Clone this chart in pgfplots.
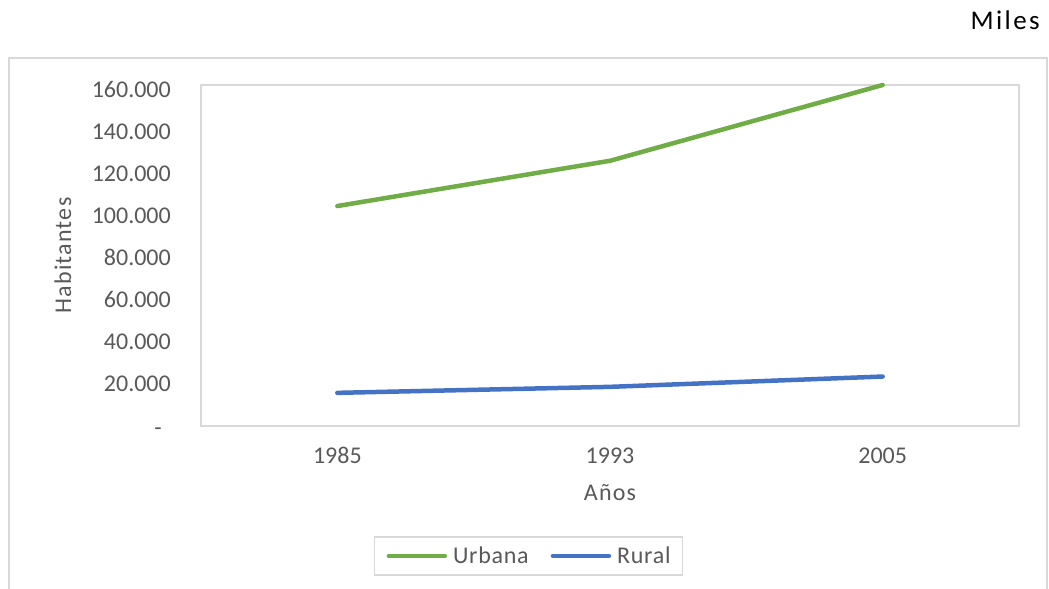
\documentclass[border=0pt]{standalone}
\usepackage{fontspec}
\setmainfont{Carlito}
\usepackage{pgfplots}
\pgfplotsset{compat=1.18}
\definecolor{cgreen}{HTML}{70AD47}
\definecolor{cblue}{HTML}{4472C4}
\definecolor{cgrid}{HTML}{D9D9D9}
\definecolor{ctext}{HTML}{595959}
\begin{document}
\begin{tikzpicture}
\useasboundingbox (0bp,0bp) rectangle (1049bp,-589bp);
\draw[cgrid, line width=1.5bp] (9bp,-589bp) -- (9bp,-58bp) -- (1047bp,-58bp) -- (1047bp,-589bp);
\node[anchor=base east, font=\fontsize{27bp}{32bp}\selectfont\addfontfeature{LetterSpace=9}, text=black, inner sep=0pt] at (1040bp,-29bp) {Miles};
\begin{axis}[
  at={(201bp,-426bp)}, anchor=south west,
  scale only axis, width=818bp, height=341bp,
  xmin=-0.5, xmax=2.5, ymin=0, ymax=162000,
  clip=false,
  scaled y ticks=false,
  axis line style={cgrid, line width=1.5bp},
  major tick length=0pt,
  xtick={0,1,2}, xticklabels={1985,1993,2005},
  ytick={0,20000,40000,60000,80000,100000,120000,140000,160000},
  yticklabels={{\vphantom{0}\raisebox{-3bp}{-}\kern9bp},{20.000},{40.000},{60.000},{80.000},{100.000},{120.000},{140.000},{160.000}},
  ticklabel style={font=\fontsize{24bp}{28bp}\selectfont, text=ctext, inner sep=0pt},
  yticklabel style={anchor=east, xshift=-30bp},
  xticklabel style={anchor=base, yshift=-37.5bp},
  xlabel={Años}, ylabel={Habitantes},
  label style={font=\fontsize{24bp}{28bp}\selectfont\addfontfeature{LetterSpace=5}, text=ctext, inner sep=0pt},
  xlabel style={at={(axis description cs:0.5,-0.2199)}, anchor=base},
  ylabel style={at={(axis description cs:-0.1687,0.5)}, anchor=center},
  legend columns=2,
  legend style={at={(axis description cs:0.4005,-0.381)}, anchor=center,
    draw=cgrid, line width=1.5bp, font=\fontsize{24bp}{28bp}\selectfont\addfontfeature{LetterSpace=3}, text=ctext,
    inner xsep=12bp, inner ysep=8bp,
    nodes={inner xsep=0pt},
    /tikz/every odd column/.append style={column sep=6bp},
    /tikz/every even column/.append style={column sep=22bp}},
  legend image code/.code={\draw[#1, line cap=round] (0bp,0bp) -- (56bp,0bp);},
]
\addplot[cgreen, line width=4.5bp, line cap=round] coordinates {(0,104500) (1,126000) (2,162000)};
\addlegendentry{Urbana}
\addplot[cblue, line width=4.5bp, line cap=round] coordinates {(0,15750) (1,18600) (2,23500)};
\addlegendentry{Rural}
\end{axis}
\end{tikzpicture}
\end{document}
